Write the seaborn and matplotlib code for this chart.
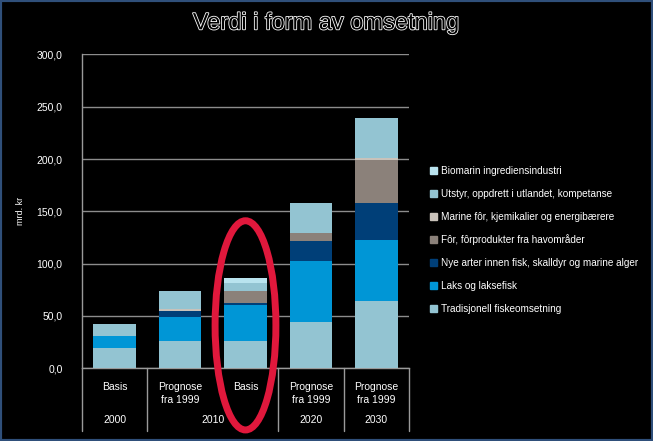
import matplotlib
matplotlib.use("Agg")
import matplotlib.pyplot as plt
import matplotlib.patheffects as pe
from matplotlib.patches import Ellipse, Rectangle
import seaborn as sns
import pandas as pd
import numpy as np

sns.set_theme(style="dark")
plt.rcParams['font.family'] = ['Liberation Sans Narrow', 'Liberation Sans', 'DejaVu Sans']

# ---- data ----
categories = ["Basis", "Prognose\nfra 1999", "Basis", "Prognose\nfra 1999", "Prognose\nfra 1999"]
years = ["2000", "2010", "2020", "2030"]
year_spans = [(0, 0), (1, 2), (3, 3), (4, 4)]
series = [
    "Tradisjonell fiskeomsetning",
    "Laks og laksefisk",
    "Nye arter innen fisk, skalldyr og marine alger",
    "Fôr, fôrprodukter fra havområder",
    "Marine fôr, kjemikalier og energibærere",
    "Utstyr, oppdrett i utlandet, kompetanse",
    "Biomarin ingrediensindustri",
]
tradisjonell = [19.7, 26.4, 26.4, 44.3, 64.3]
laks = [11.2, 22.6, 34.4, 58.3, 58.4]
nye_arter = [0.0, 6.1, 1.3, 19.4, 35.6]
for_prod = [0.0, 0.0, 11.8, 7.6, 41.0]
marine = [0.0, 1.3, 0.0, 0.0, 1.5]
utstyr = [11.5, 17.5, 8.0, 28.0, 38.5]
biomarin = [0.0, 0.0, 4.0, 0.0, 0.0]
values = [tradisjonell, laks, nye_arter, for_prod, marine, utstyr, biomarin]
colors = ["#93C4D2", "#0096D6", "#003F78", "#8B817A", "#C9C2BA", "#93C4D2", "#B9E3EE"]

fig = plt.figure(figsize=(6.53, 4.41), dpi=100, facecolor="black")
ax = fig.add_axes([0.1256, 0.165, 0.5007, 0.7115])
ax.set_facecolor("black")

xpos = list(range(len(categories)))
cum = np.cumsum(np.array(values), axis=0)
# draw from top layer down so each lower cumulative bar overlays
for i in range(len(series) - 1, -1, -1):
    df = pd.DataFrame({"x": xpos, "y": cum[i]})
    sns.barplot(data=df, x="x", y="y", color=colors[i], width=0.65,
                saturation=1, ax=ax, zorder=3, linewidth=0, order=xpos)

ax.set_xlim(-0.5, len(categories) - 0.5)
ax.set_ylim(0, 300)
ax.set_yticks(np.arange(0, 301, 50))
ax.set_yticklabels([f"{v:.1f}".replace(".", ",") for v in np.arange(0, 301, 50)],
                   color="white", fontsize=7.5)
ax.tick_params(axis="y", length=0, pad=14)
ax.set_xticks([])
ax.set_xlabel("")
ax.set_ylabel("mrd. kr", color="white", fontsize=6.5, labelpad=8)
ax.grid(axis="y", color="#8c8c8c", linewidth=1, zorder=0)
ax.grid(axis="x", visible=False)
for s in ["top", "right"]:
    ax.spines[s].set_visible(False)
for s in ["left", "bottom"]:
    ax.spines[s].set_visible(True)
    ax.spines[s].set_color("#9a9a9a")
    ax.spines[s].set_linewidth(1)

# category table below axis
trans = ax.get_xaxis_transform()
for i, c in enumerate(categories):
    ax.text(i, -0.045, c, transform=trans, ha="center", va="top", color="white",
            fontsize=7.5, linespacing=1.3)
for y, (a, b) in zip(years, year_spans):
    ax.text((a + b) / 2, -0.165, y, transform=trans, ha="center", va="center",
            color="white", fontsize=7.5)
boundaries = [-0.5] + [b + 0.5 for (a, b) in year_spans]
for bx in boundaries:
    ax.plot([bx, bx], [0, -0.2], transform=trans, color="#9a9a9a", lw=1, clip_on=False)

# legend
handles = [Rectangle((0, 0), 1, 1, color=colors[i]) for i in range(len(series) - 1, -1, -1)]
labels = [series[i] for i in range(len(series) - 1, -1, -1)]
leg = fig.legend(handles, labels, loc="upper left", bbox_to_anchor=(0.645, 0.645),
                 frameon=False, fontsize=7.2, labelcolor="white", handlelength=0.7,
                 handleheight=0.7, handletextpad=0.4, labelspacing=1.3)

# title (outlined)
fig.text(0.5, 0.947, "Verdi i form av omsetning", ha="center", va="center",
         fontsize=17, color="black",
         path_effects=[pe.withStroke(linewidth=1.2, foreground="white")])

# red highlight ellipse
ell = Ellipse((2, 41), width=0.93, height=200, fill=False, edgecolor="#E0183C",
              linewidth=5, zorder=6, clip_on=False)
ax.add_patch(ell)

# figure border
fig.patches.append(Rectangle((0, 0), 1, 1, transform=fig.transFigure, fill=False,
                             edgecolor="#2f4f7a", linewidth=3))

fig.savefig("out.png", dpi=100, facecolor="black")
